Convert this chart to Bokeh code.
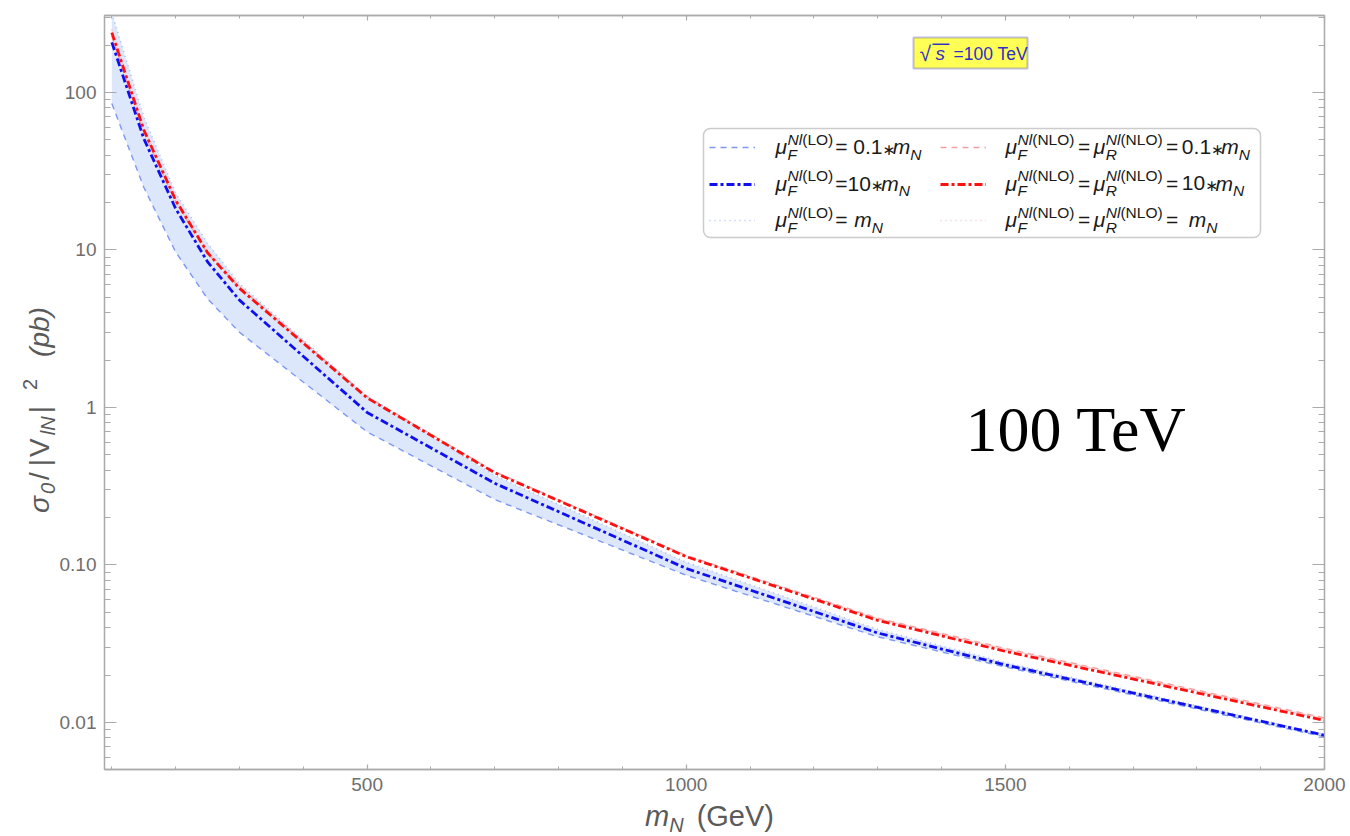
import math
from bokeh.plotting import figure
from bokeh.layouts import row, column
from bokeh.models import (FixedTicker, LinearAxis, LogAxis, Label, BoxAnnotation, Div,
                          Legend, LegendItem, CustomJSTickFormatter, ColumnDataSource, Range1d)
from bokeh.embed import file_html
from bokeh.resources import INLINE

# ---------------- data ----------------
m_N = [100, 150, 200, 250, 300, 500, 700, 1000, 1300, 1500, 2000]
lo_01 = [85, 25, 9.7, 4.9, 3.0, 0.70, 0.26, 0.086, 0.035, 0.0225, 0.0081]       # mu_F = 0.1 mN (LO)
lo_10 = [208, 51, 18.3, 8.4, 4.8, 0.93, 0.33, 0.095, 0.037, 0.0232, 0.0083]     # mu_F = 10 mN (LO)
lo_1 = [320, 70, 23.0, 11.0, 6.1, 1.18, 0.37, 0.104, 0.039, 0.0240, 0.0084]     # mu_F = mN (LO)
nlo_01 = [228, 56, 20.2, 9.5, 5.8, 1.17, 0.39, 0.115, 0.046, 0.0295, 0.0107]    # NLO 0.1 mN
nlo_10 = [240, 58, 20.7, 9.6, 5.7, 1.15, 0.385, 0.113, 0.0445, 0.0283, 0.0103]  # NLO 10 mN
nlo_1 = [252, 60, 21.3, 9.8, 5.9, 1.17, 0.39, 0.114, 0.0452, 0.0289, 0.0105]    # NLO mN

x_major = [500, 1000, 1500, 2000]
x_minor = list(range(100, 2001, 100))
y_major = [0.01, 0.1, 1, 10, 100]
y_major_labels = ["0.01", "0.10", "1", "10", "100"]
y_minor = [k * 10.0 ** e for e in range(-3, 3) for k in range(1, 10)]

SANS = "Liberation Sans"
AX = "#ababab"
TICK_TXT = "#6e6e6e"
AXT = "#5a5a5a"

YDIV_W = 56
FRAME_L, FRAME_B = 104, 769   # page position of the frame's left / bottom edge


def sx(px):
    return px - FRAME_L


def sy(py):
    return FRAME_B - py


p = figure(width=1350 - YDIV_W, height=800, x_range=Range1d(88.5, 2000), y_range=Range1d(0.00503, 308),
           y_axis_type="log", output_backend="svg", toolbar_location=None,
           min_border_left=FRAME_L - YDIV_W, min_border_right=26, min_border_top=15, min_border_bottom=31,
           background_fill_color="white", border_fill_color="white",
           outline_line_color=AX, outline_line_width=1.3)
p.grid.visible = False

ylab_fmt = CustomJSTickFormatter(args=dict(vals=y_major, labs=y_major_labels), code="""
for (let i = 0; i < vals.length; i++) {
  if (Math.abs(Math.log10(tick) - Math.log10(vals[i])) < 1e-6) return labs[i];
}
return '';
""")
xlab_fmt = CustomJSTickFormatter(code="return tick.toFixed(0);")
blank_fmt = CustomJSTickFormatter(code="return '';")


def style_axis(ax, major_in, minor_in, labels=True):
    ax.axis_line_color = AX
    ax.axis_line_width = 1.3
    ax.major_tick_line_color = AX
    ax.minor_tick_line_color = AX
    ax.major_tick_line_width = 1.2
    ax.minor_tick_line_width = 1.0
    ax.major_tick_in = major_in
    ax.major_tick_out = 0
    ax.minor_tick_in = minor_in
    ax.minor_tick_out = 0
    if labels:
        ax.major_label_text_font = SANS
        ax.major_label_text_font_size = "19px"
        ax.major_label_text_color = TICK_TXT
        ax.major_label_standoff = 8
    else:
        ax.major_label_text_font_size = "0px"
        ax.major_label_standoff = 0


xa = p.xaxis[0]
xa.ticker = FixedTicker(ticks=x_major, minor_ticks=x_minor)
xa.formatter = xlab_fmt
style_axis(xa, 5, 3)

ya = p.yaxis[0]
ya.ticker = FixedTicker(ticks=y_major, minor_ticks=y_minor)
ya.formatter = ylab_fmt
style_axis(ya, 12, 6)

top = LinearAxis(ticker=FixedTicker(ticks=x_major, minor_ticks=x_minor), formatter=blank_fmt)
style_axis(top, 5, 3, labels=False)
p.add_layout(top, "above")

right = LogAxis(ticker=FixedTicker(ticks=y_major, minor_ticks=y_minor), formatter=blank_fmt)
style_axis(right, 12, 6, labels=False)
p.add_layout(right, "right")

src = ColumnDataSource(dict(m=m_N, lo01=lo_01, lo10=lo_10, lo1=lo_1,
                            nlo01=nlo_01, nlo10=nlo_10, nlo1=nlo_1))

# bands
p.varea(x="m", y1="lo01", y2="lo1", source=src, fill_color="#dce7fb", fill_alpha=1.0)
p.varea(x="m", y1="nlo01", y2="nlo1", source=src, fill_color="#f9d2d2", fill_alpha=0.9)

r_lo01 = p.line("m", "lo01", source=src, line_color="#7d97f2", line_width=1.4, line_dash="6 5")
r_lo1 = p.line("m", "lo1", source=src, line_color="#a9bcf4", line_width=1.6, line_dash="1 4")
r_nlo01 = p.line("m", "nlo01", source=src, line_color="#f3a2a2", line_width=1.4, line_dash="6 5")
r_nlo1 = p.line("m", "nlo1", source=src, line_color="#f6c3c3", line_width=1.6, line_dash="1 4")
r_lo10 = p.line("m", "lo10", source=src, line_color="#1010ee", line_width=2.8, line_dash="8 3 3 3")
r_nlo10 = p.line("m", "nlo10", source=src, line_color="#ff1010", line_width=2.8, line_dash="8 3 3 3")

# ---------------- text helpers ----------------
CW = {
    'a': .556, 'b': .556, 'c': .5, 'd': .556, 'e': .556, 'f': .278, 'g': .556, 'h': .556,
    'i': .222, 'j': .222, 'k': .5, 'l': .222, 'm': .833, 'n': .556, 'o': .556, 'p': .556,
    'q': .556, 'r': .333, 's': .5, 't': .278, 'u': .556, 'v': .5, 'w': .722, 'x': .5,
    'y': .5, 'z': .5, 'F': .611, 'G': .778, 'L': .556, 'N': .722, 'O': .778, 'R': .722,
    'T': .611, 'V': .667, ' ': .278, '(': .333, ')': .333, '=': .584, '.': .278,
    '∗': .6, '/': .278, '|': .26, 'μ': .576, 'σ': .6, '√': .55,
    '0': .556, '1': .556, '2': .556, '3': .556, '4': .556, '5': .556, '6': .556,
    '7': .556, '8': .556, '9': .556,
}

BASE_SHIFT = 0.36   # the rendered baseline sits this many em below the anchor


def tw(t, size):
    return sum(CW.get(c, 0.556) for c in t) * size


def put(text, x, y, size, italic=False, color="#1a1a1a", angle=0.0, font=SANS):
    p.add_layout(Label(x=x, y=y + BASE_SHIFT * size, x_units="screen", y_units="screen", text=text,
                       text_font=font, text_font_size=f"{size}px",
                       text_font_style="italic" if italic else "normal",
                       text_color=color, text_align="left", text_baseline="alphabetic",
                       angle=angle))


def rich_row(parts, px, py, main, script, color="#1a1a1a"):
    x = sx(px)
    y = sy(py)
    for part in parts:
        kind = part[0]
        if kind == "t":
            put(part[1], x, y, main, part[2], color)
            x += tw(part[1], main)
        elif kind == "star":
            put("∗", x, y - 1, script, False, color, font="DejaVu Sans")
            x += tw("∗", script)
        elif kind == "gap":
            x += part[1]
        elif kind == "sub":
            put(part[1], x, y - main * 0.25, script, part[2], color)
            x += tw(part[1], script)
        elif kind == "stack":
            sub = part[1]
            put(sub, x, y - main * 0.25, script, True, color)
            w1 = tw(sub, script)
            xx = x
            for txt, it in part[2]:
                put(txt, xx, y + main * 0.45, script, it, color)
                xx += tw(txt, script)
            x += max(w1, xx - x)


# ---------------- legend ----------------
p.add_layout(BoxAnnotation(left=sx(703), right=sx(1260), top=sy(128), bottom=sy(237),
                           left_units="screen", right_units="screen",
                           top_units="screen", bottom_units="screen",
                           fill_color="white", fill_alpha=1.0, line_color="#555555",
                           line_width=1.5, border_radius=7))

legend_rows = [147, 183.5, 220]
lo_rends = [r_lo01, r_lo10, r_lo1]
nlo_rends = [r_nlo01, r_nlo10, r_nlo1]
for rows_x, rends in ((709, lo_rends), (940, nlo_rends)):
    for ry, rend in zip(legend_rows, rends):
        leg = Legend(items=[LegendItem(label=" ", renderers=[rend])],
                     location=(sx(rows_x), sy(ry + 10)), glyph_width=46, glyph_height=20,
                     label_width=0, label_standoff=0, padding=0, margin=0, spacing=0,
                     border_line_alpha=0, background_fill_alpha=0,
                     label_text_font_size="1px", label_height=1)
        p.add_layout(leg)

LM, LS = 21, 15.5
lo_tail = [[("gap", 2), ("t", "= 0.1", False), ("star",)],
           [("gap", 2), ("t", "=10", False), ("star",)],
           [("gap", 2), ("t", "= ", False)]]
nlo_tail = [[("gap", 3.5), ("t", "=", False), ("gap", 3.5), ("t", "0.1", False), ("star",)],
            [("gap", 3.5), ("t", "=", False), ("gap", 3.5), ("t", "10", False), ("star",)],
            [("gap", 3.5), ("t", "=", False), ("gap", 3.5), ("t", " ", False)]]
for ry, tail in zip(legend_rows, lo_tail):
    parts = [("t", "μ", True), ("stack", "F", [("Nl", True), ("(LO)", False)])] + tail + \
            [("gap", 1), ("t", "m", True), ("sub", "N", True)]
    rich_row(parts, 775, ry + 7, LM, LS)
for ry, tail in zip(legend_rows, nlo_tail):
    parts = [("t", "μ", True), ("stack", "F", [("Nl", True), ("(NLO)", False)]),
             ("gap", 3.5), ("t", "=", False), ("gap", 3.5),
             ("t", "μ", True), ("stack", "R", [("Nl", True), ("(NLO)", False)])] + \
            tail + [("gap", 1), ("t", "m", True), ("sub", "N", True)]
    rich_row(parts, 1005, ry + 7, LM, LS)

# ---------------- sqrt(s) box ----------------
p.add_layout(BoxAnnotation(left=sx(913), right=sx(1027), top=sy(37), bottom=sy(68),
                           left_units="screen", right_units="screen",
                           top_units="screen", bottom_units="screen",
                           fill_color="#ffff55", fill_alpha=1.0, line_color="#2a2ae0",
                           line_width=2))
BL = "#3030c8"
put("√", sx(919), sy(61), 21, False, BL)
p.add_layout(BoxAnnotation(left=sx(932), right=sx(949), top=sy(43), bottom=sy(44.4),
                           left_units="screen", right_units="screen",
                           top_units="screen", bottom_units="screen",
                           fill_color=BL, fill_alpha=1.0, line_alpha=0))
put("s", sx(935), sy(60), 19, True, BL)
put("=100 TeV", sx(953), sy(60), 17.5, False, BL)

# ---------------- big annotation ----------------
put("100 TeV", sx(965), sy(452), 64, False, "#000000", font="Liberation Serif")

# ---------------- axis titles (rich text in Divs) ----------------
SUB = "font-style:italic;font-size:20px;position:relative;top:6px;"
SUP = "font-size:20px;position:relative;top:-12px;"
xlabel_html = (
    "<div style=\"position:relative;top:2px;padding-left:%dpx;white-space:nowrap;"
    "font-family:'Liberation Sans';font-size:29px;line-height:28px;color:%s;\">"
    "<i>m</i><span style=\"%s\">N</span><span style=\"margin-left:13px;\">(GeV)</span></div>"
) % (645 - YDIV_W, AXT, SUB)

ylabel_html = (
    "<div style=\"width:836px;height:56px;transform-origin:0 0;"
    "transform:translate(0px,836px) rotate(-90deg);white-space:nowrap;"
    "font-family:'Liberation Sans';font-size:28px;line-height:28px;color:%s;\">"
    "<div style=\"padding-left:323px;padding-top:26px;\">"
    "<i>σ</i><span style=\"%smargin-left:2px;\">0</span>"
    "<span style=\"margin-left:3px;\">/</span>"
    "<span style=\"margin-left:6px;\">|</span>"
    "<span style=\"margin-left:2px;\">V</span>"
    "<span style=\"%smargin-left:3px;\">lN</span>"
    "<span style=\"margin-left:3px;\">|</span>"
    "<span style=\"%smargin-left:16px;\">2</span>"
    "<span style=\"margin-left:22px;font-style:italic;\">(pb)</span>"
    "</div></div>"
) % (AXT, SUB, SUB, SUP)

xdiv = Div(text=xlabel_html, width=1350 - YDIV_W, height=36, margin=0)
ydiv = Div(text=ylabel_html, width=YDIV_W, height=836, margin=0)

layout = row(ydiv, column(p, xdiv, spacing=0), spacing=0)

open("out.html", "w").write(file_html(layout, INLINE))
